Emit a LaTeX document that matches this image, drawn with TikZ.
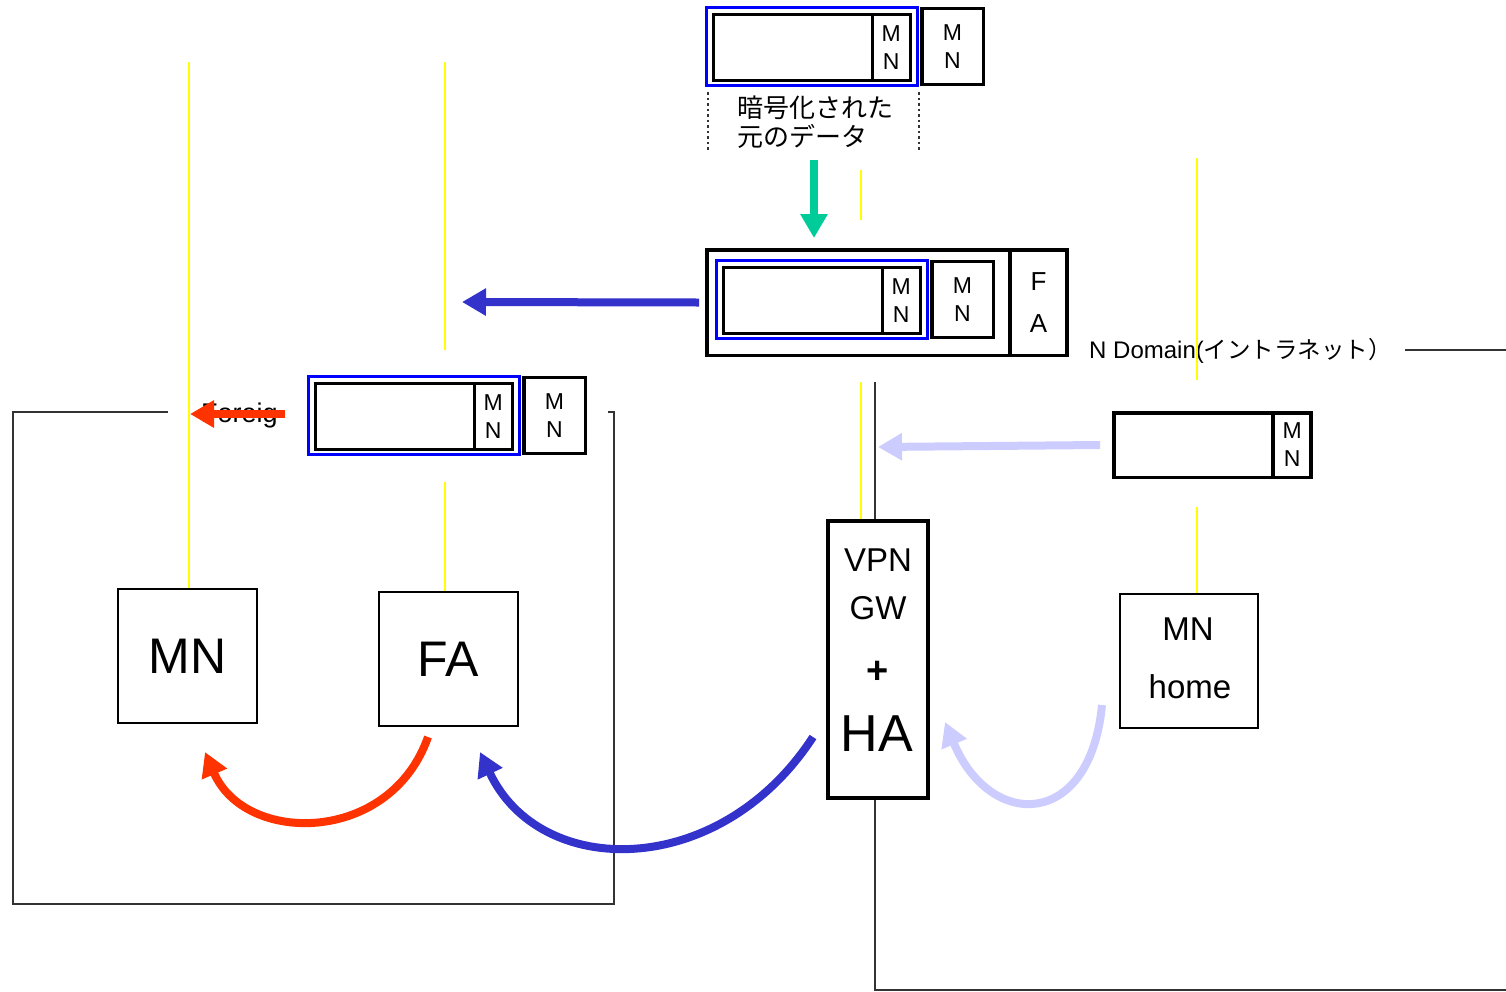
\documentclass[tikz,border=0pt]{standalone}
\usepackage{fontspec}
\setmainfont{Liberation Sans}
\newfontfamily\jpfont{Noto Sans CJK JP}
\usetikzlibrary{arrows.meta}

\definecolor{tunnelblue}{RGB}{51,51,204}
\definecolor{pktblue}{RGB}{0,0,255}
\definecolor{homeblue}{RGB}{204,204,255}
\definecolor{fared}{RGB}{255,51,0}
\definecolor{encgreen}{RGB}{0,204,153}
\definecolor{wireyellow}{RGB}{255,255,0}
\definecolor{domgray}{RGB}{51,51,51}

\tikzset{
  cell/.style={draw, line width=3pt, inner sep=0pt, align=center,
    font=\fontsize{23}{28}\selectfont},
  hostbox/.style={draw, fill=white, line width=1.5pt, inner sep=0pt},
  wire/.style={wireyellow, line width=1.5pt},
  border/.style={domgray, line width=1.5pt},
  fat/.style={line width=8pt, -{Triangle[length=24pt,width=26pt]}},
  lbl/.style={inner sep=0pt, font=\fontsize{27}{30}\selectfont},
}

\begin{document}
\begin{tikzpicture}[x=1pt,y=-1pt]
\useasboundingbox (0,0) rectangle (1506,991);

% domain borders
\draw[border] (168,412) -- (13,412) -- (13,904) -- (614,904) -- (614,412) -- (608,412);
\draw[border] (875,382) -- (875,990) -- (1506,990);
\draw[border] (1405,350) -- (1506,350);
\node[lbl, anchor=west] (foreign) at (201,416) {Foreig};
\node[lbl, anchor=west, font=\fontsize{24}{30}\selectfont] (homedom) at (1089,351)
  {N Domain({\jpfont\fontsize{23.5}{30}\selectfont イントラネット）}};

% hosts
\node[hostbox, minimum width=139pt, minimum height=134pt,
  font=\fontsize{50}{50}\selectfont] (mn) at (187.5,656) {MN};
\node[hostbox, minimum width=139pt, minimum height=134pt,
  font=\fontsize{50}{50}\selectfont] (fa) at (448.5,659) {FA};
\node[hostbox, line width=3.5pt, minimum width=100pt, minimum height=277pt] (gw) at (878,659.5) {};
\node[inner sep=0pt, font=\fontsize{33}{33}\selectfont] (vpn) at (878,560) {VPN};
\node[inner sep=0pt, font=\fontsize{33}{33}\selectfont] (gwl) at (878,608) {GW};
\node[inner sep=0pt, font=\bfseries\fontsize{38}{38}\selectfont] (plus) at (878,672) {+};
\node[inner sep=0pt, font=\fontsize{52}{52}\selectfont] (ha) at (877,734) {HA};
\node[hostbox, minimum width=138pt, minimum height=134pt] (home) at (1189,661) {};
\node[inner sep=0pt, font=\fontsize{33}{33}\selectfont] (homemn) at (1188,629) {MN};
\node[inner sep=0pt, font=\fontsize{33}{33}\selectfont] (homel) at (1190,687) {home};

% yellow links
\coordinate (w1) at (189,62);
\coordinate (w2) at (445,62);
\coordinate (w3) at (445,482);
\coordinate (w4) at (861,382);
\coordinate (w5) at (1197,507);
\draw[wire] (w1) -- (w1 |- mn.north);
\draw[wire] (w2) -- (445,350);
\draw[wire] (w3) -- (w3 |- fa.north);
\draw[wire] (861,170) -- (861,220);
\draw[wire] (w4) -- (w4 |- gw.north);
\draw[wire] (1197,158) -- (1197,380);
\draw[wire] (w5) -- (w5 |- home.north);

% outer tunnel header
\node[cell, line width=3.5pt, minimum width=303.25pt, minimum height=105.5pt] (tunnel) at (858.4,302.5) {};
\node[cell, line width=3.5pt, minimum width=57.25pt, minimum height=105.5pt,
  font=\fontsize{26}{42}\selectfont] (facell) at (1038.6,302.5) {F\\A};

% encrypted packet, same layout three times
\foreach \dx/\dy/\n in {0/0/a,10/253/b,-398/369/c}{
  \begin{scope}[shift={(\dx,\dy)}]
    \draw[pktblue, line width=3pt] (706.5,7.5) rectangle (917.5,85.5);
    \node[cell, minimum width=158.5pt, minimum height=66pt] (data\n) at (792.75,47.5) {};
    \node[cell, minimum width=38.5pt, minimum height=66pt] (inner\n) at (891.25,47.5) {M\\N};
    \node[cell, line width=3.5pt, minimum width=61.5pt, minimum height=76pt] (outer\n) at (952.5,46.5) {M\\N};
  \end{scope}
}

% plain packet at home
\node[cell, line width=3.5pt, minimum width=159.25pt, minimum height=64.5pt] (homedata) at (1193.4,445) {};
\node[cell, line width=3.5pt, minimum width=38.25pt, minimum height=64.5pt] (homecell) at (1292.1,445) {M\\N};

% encrypted part
\draw[domgray, line width=2.5pt, dash pattern=on 2.5pt off 3pt] (708,92) -- (708,150);
\draw[domgray, line width=2.5pt, dash pattern=on 2.5pt off 3pt] (919,92) -- (919,150);
\node[inner sep=0pt, anchor=north west, align=left,
  font=\jpfont\fontsize{26}{29}\selectfont] (orig) at (737,96) {暗号化された\\元のデータ};

% flow arrows
\coordinate (g0) at (814,160);
\coordinate (g1) at (814,238);
\coordinate (t1) at (462,302);
\coordinate (h1) at (878,447);
\coordinate (f0) at (285,414);
\coordinate (f1) at (190,414);
\draw[fat, encgreen] (g0) -- (g1);
\draw[fat, tunnelblue] ([xshift=-6pt]tunnel.west) -- (t1);
\draw[fat, homeblue] ([xshift=-12pt]homedata.west) -- (h1);
\draw[fat, fared] (f0) -- (f1);

% curved hand-over arrows
\coordinate (r0) at (428,737);
\coordinate (r1) at (205,752);
\coordinate (b0) at (813,737);
\coordinate (b1) at (480,752);
\coordinate (l0) at (1102,705);
\coordinate (l1) at (945,722);
\draw[fat, fared] (r0) .. controls (390,845) and (245,845) .. (r1);
\draw[fat, tunnelblue] (b0) .. controls (720,880) and (540,880) .. (b1);
\draw[fat, homeblue] (l0) .. controls (1090,830) and (990,830) .. (l1);
\end{tikzpicture}
\end{document}
